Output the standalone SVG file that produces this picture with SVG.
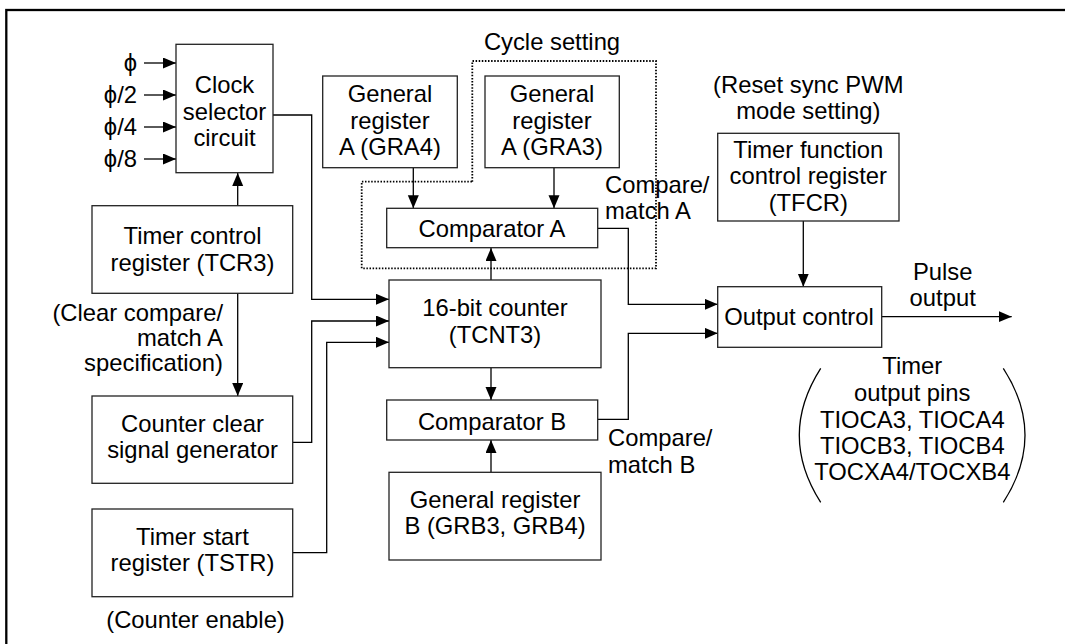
<svg xmlns="http://www.w3.org/2000/svg" width="1065" height="644" viewBox="0 0 1065 644">
<style>
.box{fill:#fff;stroke:#222;stroke-width:1.3}
.t{font-family:"Liberation Sans",Arial,sans-serif;font-size:23.8px;fill:#000;text-anchor:middle}
.l{text-anchor:start}
.r{text-anchor:end}
.c{fill:none;stroke:#000;stroke-width:1.3}
.a{marker-end:url(#ah)}
.dot{fill:none;stroke:#000;stroke-width:1.8;stroke-dasharray:1.5 1.6}
</style>
<defs>
<marker id="ah" markerUnits="userSpaceOnUse" markerWidth="14" markerHeight="12" refX="13" refY="5.5" orient="auto">
<path d="M0,0 L13,5.5 L0,11 z" fill="#000"/>
</marker>
</defs>
<rect x="6.3" y="10" width="1100" height="680" fill="#fff" stroke="#000" stroke-width="2.3"/>

<g id="cycle-region">
<path class="dot" d="M472.3,181.7 V61 H656 V268.3 H361.7 V181.7 Z"/>
<text class="t" x="552" y="50">Cycle setting</text>
</g>

<g id="connectors">
<path class="c a" d="M144,63 H176"/>
<path class="c a" d="M144,95 H176"/>
<path class="c a" d="M144,127 H176"/>
<path class="c a" d="M144,159 H176"/>
<path class="c a" d="M237.7,206 V173"/>
<path class="c a" d="M273,115 H311.7 V299.3 H389"/>
<path class="c a" d="M237.7,293 V396"/>
<path class="c a" d="M293,442.3 H311.7 V321 H389"/>
<path class="c a" d="M293,552.7 H326.7 V342.3 H389"/>
<path class="c a" d="M491,280 V248"/>
<path class="c a" d="M491,368 V400"/>
<path class="c a" d="M491,472 V440"/>
<path class="c a" d="M413.3,168 V208.3"/>
<path class="c a" d="M554,168 V208.3"/>
<path class="c a" d="M597.7,228.3 H628.3 V304.3 H717.7"/>
<path class="c a" d="M597.7,419.3 H628.3 V333.3 H717.7"/>
<path class="c a" d="M803.3,221 V286.7"/>
<path class="c a" d="M881.7,316.7 H1011.7"/>
</g>

<g id="clock-inputs">
<text class="t r" x="137" y="71">ϕ</text>
<text class="t r" x="137" y="103">ϕ/2</text>
<text class="t r" x="137" y="134.5">ϕ/4</text>
<text class="t r" x="137" y="167">ϕ/8</text>
</g>

<g id="clock-selector">
<rect class="box" x="176" y="44.3" width="97" height="128.4"/>
<text class="t" x="224.5" y="93">Clock</text>
<text class="t" x="224.5" y="119.5">selector</text>
<text class="t" x="224.5" y="145.5">circuit</text>
</g>

<g id="tcr3">
<rect class="box" x="92" y="205.7" width="200.7" height="87.6"/>
<text class="t" x="192.5" y="244">Timer control</text>
<text class="t" x="192.5" y="271">register (TCR3)</text>
</g>

<g id="clear-label">
<text class="t r" x="223" y="321">(Clear compare/</text>
<text class="t r" x="223" y="346">match A</text>
<text class="t r" x="223" y="371">specification)</text>
</g>

<g id="counter-clear">
<rect class="box" x="92" y="396" width="200.7" height="87.3"/>
<text class="t" x="192.5" y="432">Counter clear</text>
<text class="t" x="192.5" y="458">signal generator</text>
</g>

<g id="tstr">
<rect class="box" x="92" y="509" width="200.7" height="87.7"/>
<text class="t" x="192.5" y="545">Timer start</text>
<text class="t" x="192.5" y="571">register (TSTR)</text>
<text class="t" x="195.5" y="627.5">(Counter enable)</text>
</g>

<g id="gra4">
<rect class="box" x="322.7" y="76" width="134.6" height="91.7"/>
<text class="t" x="390" y="102">General</text>
<text class="t" x="390" y="128.5">register</text>
<text class="t" x="390" y="155">A (GRA4)</text>
</g>

<g id="gra3">
<rect class="box" x="485" y="76" width="134.3" height="91.7"/>
<text class="t" x="552" y="102">General</text>
<text class="t" x="552" y="128.5">register</text>
<text class="t" x="552" y="155">A (GRA3)</text>
</g>

<g id="comparator-a">
<rect class="box" x="386.7" y="208.3" width="211" height="39.4"/>
<text class="t" x="492" y="236.5">Comparator A</text>
</g>

<g id="counter">
<rect class="box" x="389" y="280" width="212" height="87.7"/>
<text class="t" x="495" y="316">16-bit counter</text>
<text class="t" x="495" y="342.5">(TCNT3)</text>
</g>

<g id="comparator-b">
<rect class="box" x="386.7" y="400" width="211" height="40"/>
<text class="t" x="492" y="429.5">Comparator B</text>
</g>

<g id="grb">
<rect class="box" x="389" y="472.3" width="212" height="87.7"/>
<text class="t" x="495" y="507.5">General register</text>
<text class="t" x="495" y="533.5">B (GRB3, GRB4)</text>
</g>

<g id="cm-labels">
<text class="t l" x="605" y="192.5">Compare/</text>
<text class="t l" x="605" y="219">match A</text>
<text class="t l" x="608" y="446">Compare/</text>
<text class="t l" x="608" y="472.5">match B</text>
</g>

<g id="tfcr">
<text class="t" x="808.3" y="92.7">(Reset sync PWM</text>
<text class="t" x="808.3" y="119.3">mode setting)</text>
<rect class="box" x="717.7" y="133.3" width="181.3" height="87.7"/>
<text class="t" x="808.3" y="157.5">Timer function</text>
<text class="t" x="808.3" y="184">control register</text>
<text class="t" x="808.3" y="211">(TFCR)</text>
</g>

<g id="output-control">
<rect class="box" x="717.7" y="286.7" width="164" height="60.6"/>
<text class="t" x="799" y="325">Output control</text>
</g>

<g id="pulse-output">
<text class="t" x="942.7" y="280">Pulse</text>
<text class="t" x="942.7" y="306">output</text>
</g>

<g id="timer-pins">
<path class="c" d="M820.7,368.3 Q777.9,435.3 820.7,502.3"/>
<path class="c" d="M1003.3,368.3 Q1046.7,435.3 1003.3,502.3"/>
<text class="t" x="912.3" y="374">Timer</text>
<text class="t" x="912.3" y="400.7">output pins</text>
<text class="t" x="912.3" y="427.5">TIOCA3, TIOCA4</text>
<text class="t" x="912.3" y="454">TIOCB3, TIOCB4</text>
<text class="t" x="912.3" y="480">TOCXA4/TOCXB4</text>
</g>
</svg>
